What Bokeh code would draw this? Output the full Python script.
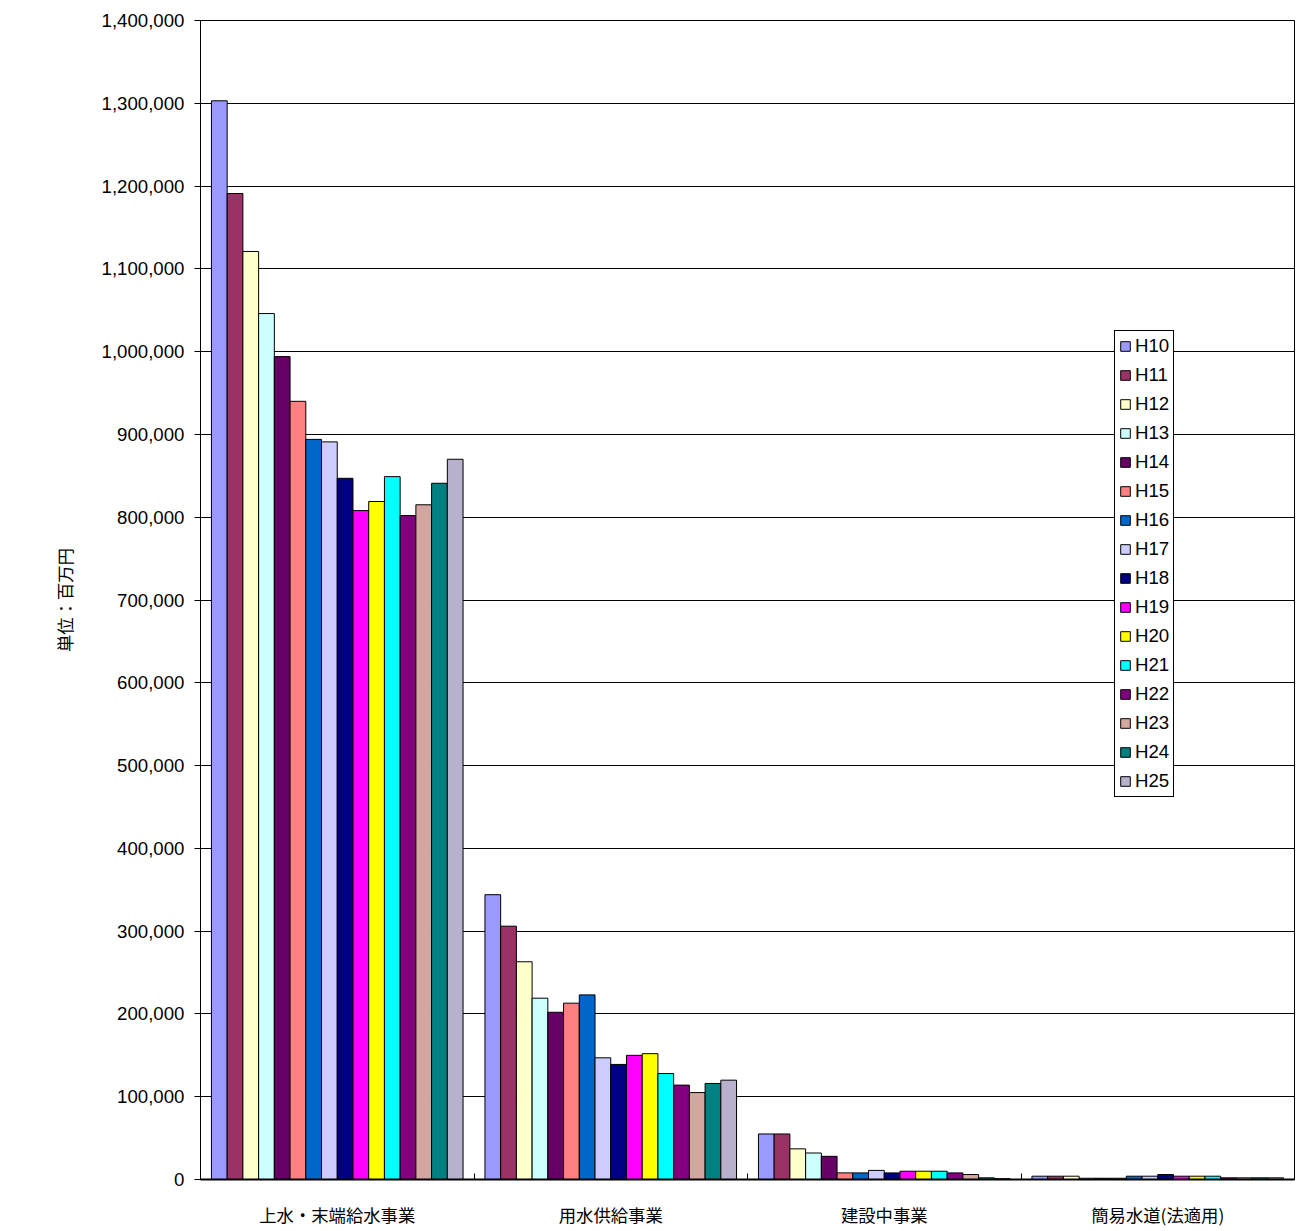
from bokeh.plotting import figure
from bokeh.models import ColumnDataSource, FixedTicker, NumeralTickFormatter, Legend, LegendItem
from bokeh.embed import file_html
from bokeh.resources import INLINE

groups = ["上水・末端給水事業", "用水供給事業", "建設中事業", "簡易水道(法適用)"]
years = ["H10", "H11", "H12", "H13", "H14", "H15", "H16", "H17",
         "H18", "H19", "H20", "H21", "H22", "H23", "H24", "H25"]
colors = ["#9999FF", "#993366", "#FFFFCC", "#CCFFFF", "#660066", "#FF8080", "#0066CC", "#CCCCFF",
          "#000080", "#FF00FF", "#FFFF00", "#00FFFF", "#800080", "#D4A6A0", "#008080", "#B8B0CC"]

josui = [1303000, 1191000, 1121000, 1046000, 994000, 940000, 894000, 891000,
         847000, 808000, 819000, 849000, 802000, 815000, 841000, 870000]
yousui = [344000, 306000, 263000, 219000, 202000, 213000, 223000, 147000,
          139000, 150000, 152000, 128000, 114000, 105000, 116000, 120000]
kensetsu = [55000, 55000, 37000, 32000, 28000, 8000, 8000, 11000,
            8000, 10000, 10000, 10000, 8000, 6000, 2000, 1000]
kani = [4000, 4000, 4000, 1500, 1500, 1500, 4000, 4000,
        6000, 4000, 4000, 4000, 2000, 2000, 2000, 2000]
series = [josui, yousui, kensetsu, kani]

p = figure(width=1300, height=1229, x_range=(0, 4), y_range=(0, 1400000),
           output_backend="svg", toolbar_location=None,
           min_border_left=200, min_border_top=20, min_border_right=6, min_border_bottom=46)
p.outline_line_color = "black"
p.border_fill_color = "white"

bw = 0.92 / len(years)
items = []
for i, yr in enumerate(years):
    xs = [g + 0.04 + (i + 0.5) * bw for g in range(len(groups))]
    tops = [series[g][i] for g in range(len(groups))]
    src = ColumnDataSource(dict(x=xs, top=tops))
    r = p.vbar(x="x", top="top", width=bw, source=src, fill_color=colors[i],
               line_color="black", line_width=1)
    items.append(LegendItem(label=yr, renderers=[r]))

legend = Legend(items=items, location=(914, 382), border_line_color="black", border_line_width=1.5,
                border_line_alpha=1,
                label_text_font="Liberation Sans", label_text_font_size="14pt",
                label_text_color="black",
                glyph_width=12, glyph_height=12, spacing=7, padding=4, margin=0,
                label_standoff=4, label_height=18, background_fill_alpha=1)
p.add_layout(legend, "center")

p.xaxis.ticker = FixedTicker(ticks=[0.5, 1.5, 2.5, 3.5], minor_ticks=[1, 2, 3])
p.xaxis.major_label_overrides = {0.5: groups[0], 1.5: groups[1], 2.5: groups[2], 3.5: groups[3]}
p.xaxis.major_tick_line_color = None
p.xaxis.minor_tick_in = 6
p.xaxis.minor_tick_out = 0
p.xaxis.axis_line_width = 2
p.xaxis.major_label_text_font = "Noto Sans CJK JP"
p.xaxis.major_label_text_font_size = "13pt"
p.xaxis.major_label_text_color = "black"
p.xaxis.major_label_standoff = 16
p.xgrid.grid_line_color = None

p.yaxis.ticker = FixedTicker(ticks=list(range(0, 1400001, 100000)))
p.yaxis.formatter = NumeralTickFormatter(format="0,0")
p.yaxis.major_label_text_font = "Liberation Sans"
p.yaxis.major_label_text_font_size = "14pt"
p.yaxis.major_label_text_color = "black"
p.yaxis.major_tick_out = 6
p.yaxis.major_tick_in = 0
p.yaxis.minor_tick_line_color = None
p.yaxis.major_label_standoff = 10
p.yaxis.axis_label = "単位：百万円"
p.yaxis.axis_label_text_font = "Noto Sans CJK JP"
p.yaxis.axis_label_text_font_style = "normal"
p.yaxis.axis_label_text_font_size = "13pt"
p.yaxis.axis_label_text_color = "black"
p.yaxis.axis_label_standoff = 22
p.ygrid.grid_line_color = "black"
p.ygrid.grid_line_alpha = 1

open("out.html", "w").write(file_html(p, INLINE))
